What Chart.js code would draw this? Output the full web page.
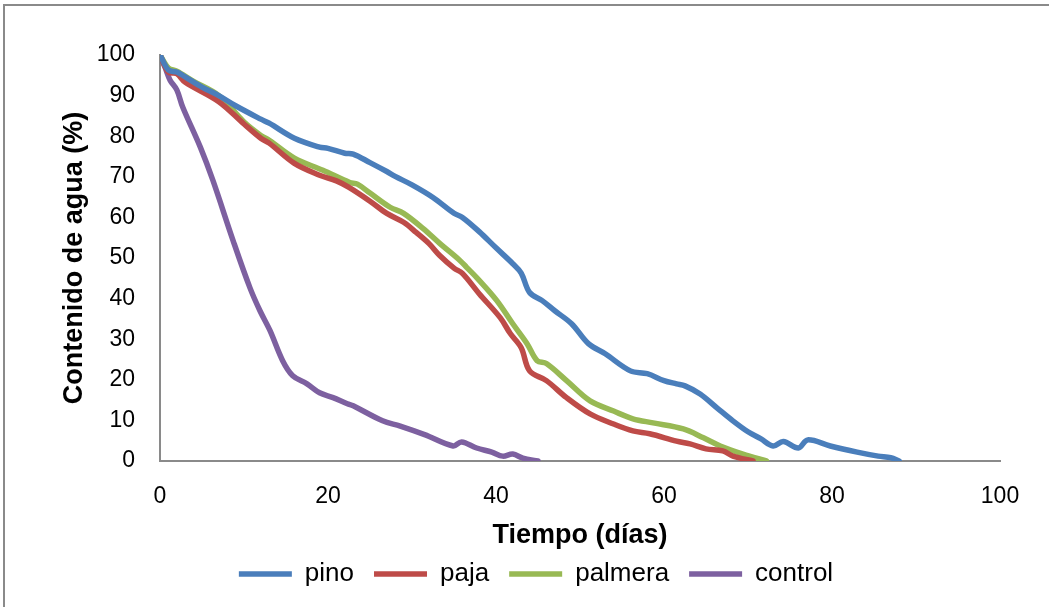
<!DOCTYPE html>
<html lang="es">
<head>
<meta charset="utf-8">
<script src="https://cdn.jsdelivr.net/npm/chart.js@4/dist/chart.umd.min.js"></script>
<style>
  html, body { margin: 0; padding: 0; background: #fff; }
  #wrap { width: 1049px; height: 607px; }
</style>
</head>
<body>
<div id="wrap"><canvas id="chart" width="1049" height="607"></canvas></div>
<script>
const SERIES_NAMES = ['pino', 'paja', 'palmera', 'control'];
const COLORS = ['#4a7ebb', '#be4b48', '#98b954', '#7d60a0'];

const pinoDias = [0, 1, 2, 3, 5, 7, 9, 12, 13, 16, 19, 20, 22, 23, 25, 27, 28, 30, 32.5, 35, 36, 38, 40, 42, 43, 44, 45.5, 47, 49, 51, 53, 56, 58, 60, 61.5, 62.5, 64.3, 66.3, 68.2, 70, 71.5, 73, 74.2, 76, 77.1, 79.8, 83, 85.5, 87, 88];
const pinoAgua = [100, 96.3, 95.8, 94.6, 92.1, 90, 87.5, 84.2, 83.2, 79.5, 77.3, 77, 75.8, 75.6, 73.5, 71.3, 70.1, 68, 64.9, 61, 60, 56.5, 52.5, 48.6, 46.3, 41.5, 39.5, 37, 33.8, 28.9, 26.4, 22.2, 21.5, 19.8, 19, 18.5, 16.5, 13.1, 9.9, 7.2, 5.5, 3.7, 4.8, 3.2, 5.2, 3.7, 2.2, 1.2, 0.8, 0];

const pajaDias = [0, 1, 2, 3, 7, 10, 12, 13, 16, 19, 21, 22.5, 25, 27, 29, 30.5, 32, 33.3, 35, 36, 38, 40.5, 41.7, 43, 44, 46, 48.4, 51.2, 54, 56.3, 58.3, 61.5, 63.1, 65, 67, 68.2, 70.6];
const pajaAgua = [100, 95.8, 95.4, 93.3, 88.5, 83, 79.5, 78.3, 73.3, 70.4, 69, 67.4, 64, 61, 58.8, 56.3, 53.6, 50.6, 47.5, 46.2, 41.2, 35.3, 31.4, 27.9, 22.2, 19.8, 15.6, 11.6, 9.1, 7.4, 6.7, 4.9, 4.2, 3, 2.5, 1.2, 0];

const palmeraDias = [0, 1, 2, 4, 7, 10, 12, 13, 16, 19.4, 22.6, 23.5, 25, 27.4, 29, 31.3, 33.3, 35.7, 36.5, 38, 40.1, 42, 43.7, 44.9, 46, 48.4, 51.2, 54, 56.3, 58.7, 62.3, 64.7, 66.7, 69.4, 72.2];
const palmeraAgua = [100, 96.8, 96, 93.5, 90, 83.5, 80.2, 79, 74.6, 71.6, 68.6, 68.2, 66, 62.5, 61, 57.3, 53.6, 49.4, 47.7, 44.5, 39.5, 33.8, 28.9, 24.7, 24, 19.8, 14.8, 12.3, 10.4, 9.4, 7.9, 5.7, 3.7, 1.7, 0];

const controlDias = [0, 0.6, 1.2, 2, 2.7, 4.8, 6.3, 8.7, 10.7, 11.9, 13.1, 14.6, 15.8, 17.5, 19, 20.6, 22.3, 23, 26.5, 28.6, 31.5, 34.9, 35.9, 37.7, 39.5, 40.8, 42, 43.2, 45];
const controlAgua = [100, 97, 93.8, 91.4, 87.2, 77.3, 69.1, 54.3, 42.7, 37, 32.1, 24.7, 21, 19, 16.8, 15.6, 14.1, 13.6, 9.9, 8.6, 6.5, 3.7, 4.7, 3.2, 2.2, 1.2, 1.7, 0.7, 0];

const DIAS = [pinoDias, pajaDias, palmeraDias, controlDias];
const AGUA = [pinoAgua, pajaAgua, palmeraAgua, controlAgua];

const FONT = '"Liberation Sans", Arial, sans-serif';
const AXIS_GRAY = '#8a8a8a';

// gray frame on the top and left edges, like the original export
const framePlugin = {
  id: 'frame',
  beforeDraw(chart) {
    const ctx = chart.ctx;
    ctx.save();
    ctx.strokeStyle = AXIS_GRAY;
    ctx.lineWidth = 2;
    ctx.beginPath();
    ctx.moveTo(4, 607);
    ctx.lineTo(4, 5);
    ctx.lineTo(1049, 5);
    ctx.stroke();
    ctx.restore();
  }
};

const datasets = SERIES_NAMES.map((name, i) => ({
  label: name,
  data: DIAS[i].map((d, k) => ({ x: d, y: AGUA[i][k] })),
  borderColor: COLORS[i],
  backgroundColor: COLORS[i],
  borderWidth: 5.5,
  borderCapStyle: 'round',
  borderJoinStyle: 'round',
  pointRadius: 0,
  pointStyle: 'line',
  tension: 0.35,
  fill: false,
}));

new Chart(document.getElementById('chart'), {
  type: 'line',
  data: { datasets },
  plugins: [framePlugin],
  options: {
    responsive: false,
    animation: false,
    events: [],
    layout: { padding: { top: 55, right: 49, left: 72, bottom: 10 } },
    plugins: {
      tooltip: { enabled: false },
      legend: {
        position: 'bottom',
        labels: {
          usePointStyle: true,
          pointStyleWidth: 53,
          boxWidth: 53,
          padding: 20,
          color: '#000',
          font: { family: FONT, size: 26 },
        },
      },
    },
    scales: {
      x: {
        type: 'linear',
        min: 0, max: 100,
        grid: { display: false, drawTicks: false },
        border: { color: AXIS_GRAY, width: 2 },
        ticks: { stepSize: 20, padding: 22, color: '#000', font: { family: FONT, size: 23 } },
        title: {
          display: true, text: 'Tiempo (días)', color: '#000',
          font: { family: FONT, size: 27, weight: 'bold', lineHeight: 1 },
          padding: { top: 0, bottom: -8 },
        },
        afterFit: s => { s.height = 80; },
      },
      y: {
        min: 0, max: 100,
        grid: { display: false, drawTicks: false },
        border: { color: AXIS_GRAY, width: 2 },
        ticks: { stepSize: 10, padding: 25, color: '#000', font: { family: FONT, size: 23 } },
        title: {
          display: true, text: 'Contenido de agua (%)', color: '#000',
          font: { family: FONT, size: 27, weight: 'bold', lineHeight: 1 },
          padding: { top: -11, bottom: 0 },
        },
        afterFit: s => { s.width = 88; },
      },
    },
  },
});
</script>
</body>
</html>
